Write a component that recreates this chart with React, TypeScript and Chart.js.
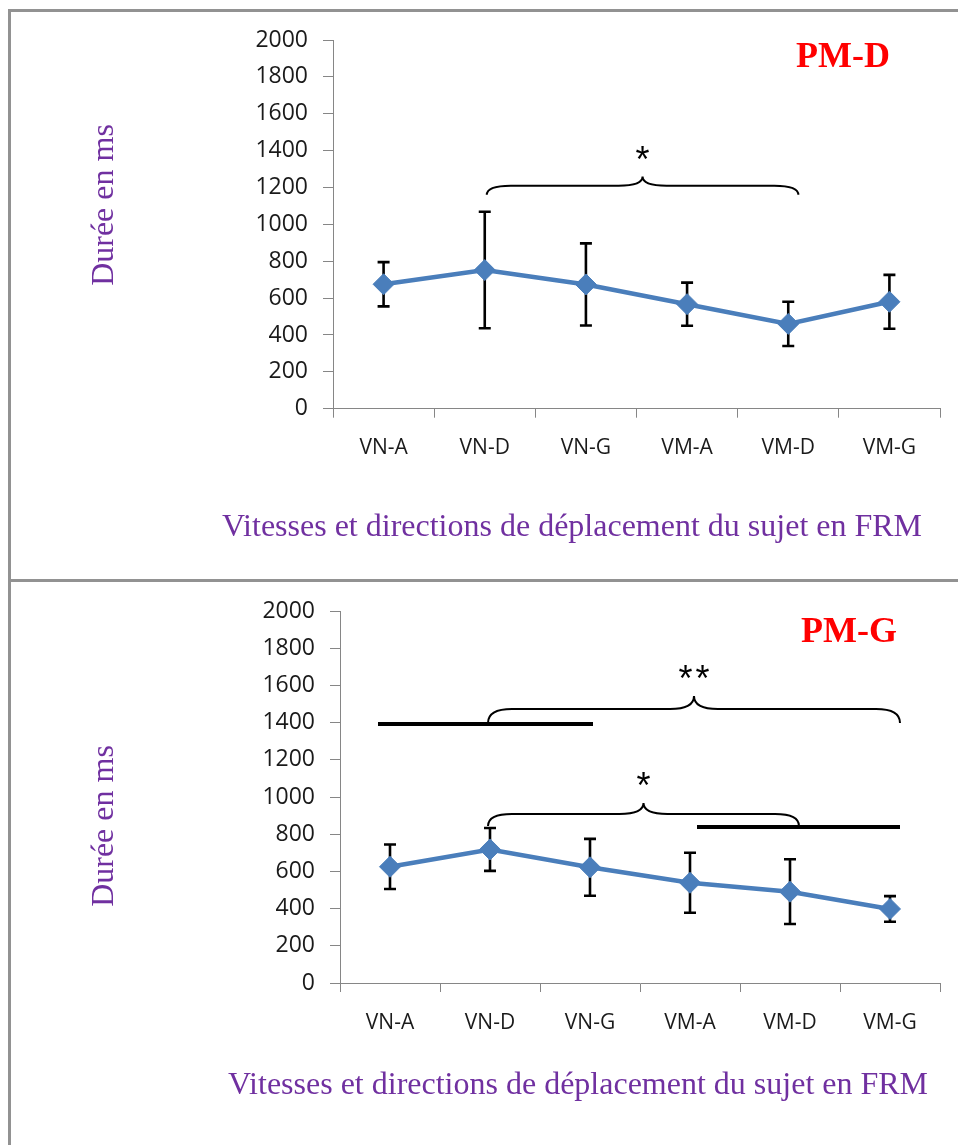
import React, { useEffect, useRef } from "react";
import { Chart, registerables } from "chart.js";

Chart.register(...registerables);

// ---------- data ----------
const categories = ["VN-A", "VN-D", "VN-G", "VM-A", "VM-D", "VM-G"];

const pmdMeans = [675, 752, 674, 567, 460, 580];
const pmdSd = [120, 316, 223, 117, 120, 146];

const pmgMeans = [625, 718, 622, 539, 491, 398];
const pmgSd = [120, 115, 153, 161, 174, 69];

const yMin = 0;
const yMax = 2000;
const yStep = 200;

// significance braces: [fromIndex, toIndex, yLine, yEnds, yTip, label, labelY]
const pmdBraces: [number, number, number, number, number, string, number][] = [
  [1.02, 4.1, 1210, 1160, 1260, "*", 1390],
];
const pmdBars: [number, number, number][] = [];

const pmgBraces: [number, number, number, number, number, string, number][] = [
  [0.98, 5.1, 1473, 1398, 1543, "**", 1680],
  [0.98, 4.09, 909, 844, 968, "*", 1100],
];
// thick horizontal bars: [fromIndex, toIndex, y]
const pmgBars: [number, number, number][] = [
  [-0.12, 2.03, 1392],
  [3.07, 5.1, 839],
];

const yTitle = "Durée en ms";
const xTitle = "Vitesses et directions de déplacement du sujet en FRM";

// ---------- styles ----------
const BLUE = "#4A7EBB";
const GREY = "#868686";
const PURPLE = "#7030A0";
const TICK_FONT = { family: "'Open Sans', sans-serif", size: 21 };

type PanelCfg = {
  title: string;
  means: number[];
  sd: number[];
  braces: [number, number, number, number, number, string, number][];
  bars: [number, number, number][];
  height: number;
  areaLeft: number;
  areaTop: number;
  areaBottom: number;
  titleX: number;
  titleY: number;
  yTitleX: number;
  yTitleY: number;
  xTitleX: number;
  xTitleY: number;
};

const panels: PanelCfg[] = [
  {
    title: "PM-D",
    means: pmdMeans,
    sd: pmdSd,
    braces: pmdBraces,
    bars: pmdBars,
    height: 580,
    areaLeft: 333,
    areaTop: 40,
    areaBottom: 408.7,
    titleX: 890,
    titleY: 67,
    yTitleX: 105,
    yTitleY: 205,
    xTitleX: 572,
    xTitleY: 528,
  },
  {
    title: "PM-G",
    means: pmgMeans,
    sd: pmgSd,
    braces: pmgBraces,
    bars: pmgBars,
    height: 565,
    areaLeft: 340,
    areaTop: 31,
    areaBottom: 403,
    titleX: 897,
    titleY: 62,
    yTitleX: 105,
    yTitleY: 246,
    xTitleX: 578,
    xTitleY: 506,
  },
];

function makePlugin(cfg: PanelCfg) {
  return {
    id: "decor",
    beforeDatasetsDraw(chart: any) {
      const { ctx, scales } = chart;
      const x = scales.x;
      const y = scales.y;
      ctx.save();
      ctx.strokeStyle = "#000";
      ctx.lineWidth = 2.6;
      cfg.means.forEach((m, i) => {
        const px = x.getPixelForValue(i);
        const top = y.getPixelForValue(m + cfg.sd[i]);
        const bot = y.getPixelForValue(m - cfg.sd[i]);
        ctx.beginPath();
        ctx.moveTo(px, top);
        ctx.lineTo(px, bot);
        ctx.moveTo(px - 6, top);
        ctx.lineTo(px + 6, top);
        ctx.moveTo(px - 6, bot);
        ctx.lineTo(px + 6, bot);
        ctx.stroke();
      });
      ctx.restore();
    },
    afterDraw(chart: any) {
      const { ctx, scales } = chart;
      const x = scales.x;
      const y = scales.y;
      ctx.save();

      // thick bars
      ctx.strokeStyle = "#000";
      ctx.lineWidth = 4;
      cfg.bars.forEach(([a, b, v]) => {
        const py = y.getPixelForValue(v);
        ctx.beginPath();
        ctx.moveTo(x.getPixelForValue(a), py);
        ctx.lineTo(x.getPixelForValue(b), py);
        ctx.stroke();
      });

      // braces
      ctx.lineWidth = 2;
      cfg.braces.forEach(([a, b, vLine, vEnd, vTip, label, vLabel]) => {
        const x0 = x.getPixelForValue(a);
        const x1 = x.getPixelForValue(b);
        const xm = (x0 + x1) / 2;
        const yl = y.getPixelForValue(vLine);
        const ye = y.getPixelForValue(vEnd);
        const yt = y.getPixelForValue(vTip);
        const r = 24;
        ctx.beginPath();
        ctx.moveTo(x0, ye);
        ctx.quadraticCurveTo(x0, yl, x0 + r, yl);
        ctx.lineTo(xm - r, yl);
        ctx.quadraticCurveTo(xm, yl, xm, yt);
        ctx.quadraticCurveTo(xm, yl, xm + r, yl);
        ctx.lineTo(x1 - r, yl);
        ctx.quadraticCurveTo(x1, yl, x1, ye);
        ctx.stroke();

        ctx.fillStyle = "#000";
        ctx.font = "36px 'Liberation Sans', sans-serif";
        ctx.textAlign = "center";
        ctx.textBaseline = "alphabetic";
        const n = label.length;
        const gap = 17;
        const ly = y.getPixelForValue(vLabel) + 20;
        for (let k = 0; k < n; k++) {
          const cx = xm + (k - (n - 1) / 2) * gap;
          ctx.fillText(label[k], cx, ly);
        }
      });

      // panel title
      ctx.fillStyle = "#FF0000";
      ctx.font = "bold 36px 'Liberation Serif', serif";
      ctx.textAlign = "right";
      ctx.textBaseline = "alphabetic";
      ctx.fillText(cfg.title, cfg.titleX, cfg.titleY);

      // axis titles
      ctx.fillStyle = PURPLE;
      ctx.font = "32px 'Liberation Serif', serif";
      ctx.textAlign = "center";
      ctx.textBaseline = "middle";
      ctx.fillText(xTitle, cfg.xTitleX, cfg.xTitleY);

      ctx.translate(cfg.yTitleX, cfg.yTitleY);
      ctx.rotate(-Math.PI / 2);
      ctx.fillText(yTitle, 0, 0);
      ctx.restore();
    },
  };
}

function Panel({ cfg, top }: { cfg: PanelCfg; top: number }) {
  const ref = useRef<HTMLCanvasElement>(null);
  useEffect(() => {
    if (!ref.current) return;
    const chart = new Chart(ref.current, {
      type: "line",
      data: {
        labels: categories,
        datasets: [
          {
            data: cfg.means,
            borderColor: BLUE,
            backgroundColor: BLUE,
            borderWidth: 4.5,
            pointStyle: "rectRot",
            pointRadius: 10.5,
            pointBorderWidth: 1,
            pointBackgroundColor: BLUE,
            pointBorderColor: BLUE,
            tension: 0,
          },
        ],
      },
      options: {
        responsive: false,
        animation: false,
        layout: { padding: { top: cfg.areaTop, right: 18, left: 0, bottom: 0 } },
        plugins: { legend: { display: false }, tooltip: { enabled: false }, title: { display: false } },
        scales: {
          x: {
            offset: true,
            grid: { offset: true, drawOnChartArea: false, drawTicks: true, tickLength: 9, color: GREY, lineWidth: 1 },
            border: { display: true, color: GREY, width: 1 },
            ticks: { font: TICK_FONT, color: "#1a1a1a", padding: 18, maxRotation: 0, autoSkip: false },
            afterFit: (s: any) => {
              s.height = cfg.height - cfg.areaBottom;
            },
          },
          y: {
            min: yMin,
            max: yMax,
            ticks: {
              stepSize: yStep,
              font: { ...TICK_FONT, size: 23 },
              color: "#1a1a1a",
              padding: 15,
              callback: (v: any) => String(v),
            },
            grid: { drawOnChartArea: false, drawTicks: true, tickLength: 10, color: GREY, lineWidth: 1 },
            border: { display: true, color: GREY, width: 1 },
            afterFit: (s: any) => {
              s.width = cfg.areaLeft;
            },
          },
        },
      },
      plugins: [makePlugin(cfg)],
    } as any);
    return () => chart.destroy();
  }, [cfg]);
  return (
    <canvas
      ref={ref}
      width={958}
      height={cfg.height}
      style={{ position: "absolute", left: 0, top, width: 958, height: cfg.height }}
    />
  );
}

export default function App() {
  const borderCol = "#929292";
  return (
    <div style={{ position: "absolute", left: 0, top: 0, width: 958, height: 1145, background: "#fff", overflow: "hidden" }}>
      <Panel cfg={panels[0]} top={0} />
      <Panel cfg={panels[1]} top={580} />
      <div
        style={{
          position: "absolute",
          left: 8,
          top: 9,
          width: 950,
          height: 571,
          borderTop: `3px solid ${borderCol}`,
          borderLeft: `3px solid ${borderCol}`,
          boxSizing: "border-box",
          pointerEvents: "none",
        }}
      />
      <div
        style={{
          position: "absolute",
          left: 8,
          top: 579,
          width: 950,
          height: 566,
          borderTop: `3px solid ${borderCol}`,
          borderLeft: `3px solid ${borderCol}`,
          boxSizing: "border-box",
          pointerEvents: "none",
        }}
      />
    </div>
  );
}
